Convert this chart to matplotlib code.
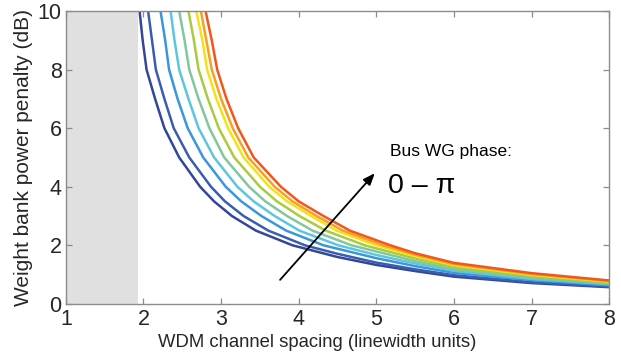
import matplotlib
matplotlib.use("Agg")
import matplotlib.pyplot as plt

plt.rcParams['font.family'] = ['Liberation Sans', 'DejaVu Sans']

# Shaded (forbidden) region upper bound, linewidth units
shade_end = 1.93

# Nine curves (bus WG phase 0 .. pi)
c0_x = [1.95, 1.99, 2.04, 2.15, 2.27, 2.46, 2.73, 2.91, 3.14, 3.45, 3.92, 4.5, 5.0, 5.5, 6.0, 7.0, 8.0]
c0_y = [10, 9, 8, 7, 6, 5, 4, 3.5, 3, 2.5, 2, 1.60, 1.33, 1.12, 0.93, 0.71, 0.57]

c1_x = [2.06, 2.11, 2.16, 2.27, 2.39, 2.59, 2.87, 3.05, 3.29, 3.61, 4.08, 4.5, 5.0, 5.5, 6.0, 7.0, 8.0]
c1_y = [10, 9, 8, 7, 6, 5, 4, 3.5, 3, 2.5, 2, 1.71, 1.41, 1.18, 0.98, 0.74, 0.59]

c2_x = [2.22, 2.28, 2.33, 2.44, 2.57, 2.77, 3.06, 3.26, 3.52, 3.84, 4.32, 5.0, 5.5, 6.0, 7.0, 8.0]
c2_y = [10, 9, 8, 7, 6, 5, 4, 3.5, 3, 2.5, 2, 1.56, 1.29, 1.06, 0.81, 0.63]

c3_x = [2.35, 2.40, 2.46, 2.58, 2.71, 2.91, 3.21, 3.42, 3.69, 4.01, 4.51, 5.0, 5.5, 6.0, 7.0, 8.0]
c3_y = [10, 9, 8, 7, 6, 5, 4, 3.5, 3, 2.5, 2, 1.67, 1.38, 1.13, 0.85, 0.67]

c4_x = [2.46, 2.53, 2.59, 2.71, 2.85, 3.04, 3.36, 3.57, 3.85, 4.18, 4.68, 5.0, 5.5, 6.0, 7.0, 8.0]
c4_y = [10, 9, 8, 7, 6, 5, 4, 3.5, 3, 2.5, 2, 1.79, 1.46, 1.19, 0.90, 0.70]

c5_x = [2.58, 2.65, 2.71, 2.83, 2.97, 3.17, 3.50, 3.72, 4.01, 4.35, 4.85, 5.5, 6.0, 7.0, 8.0]
c5_y = [10, 9, 8, 7, 6, 5, 4, 3.5, 3, 2.5, 2, 1.55, 1.26, 0.95, 0.73]

c6_x = [2.68, 2.76, 2.82, 2.94, 3.09, 3.29, 3.62, 3.85, 4.16, 4.49, 5.00, 5.5, 6.0, 7.0, 8.0]
c6_y = [10, 9, 8, 7, 6, 5, 4, 3.5, 3, 2.5, 2, 1.63, 1.32, 0.99, 0.76]

c7_x = [2.74, 2.81, 2.88, 3.00, 3.15, 3.35, 3.69, 3.92, 4.23, 4.57, 5.09, 5.5, 6.0, 7.0, 8.0]
c7_y = [10, 9, 8, 7, 6, 5, 4, 3.5, 3, 2.5, 2, 1.68, 1.36, 1.02, 0.78]

c8_x = [2.80, 2.88, 2.95, 3.07, 3.22, 3.42, 3.77, 4.00, 4.32, 4.66, 5.18, 5.5, 6.0, 7.0, 8.0]
c8_y = [10, 9, 8, 7, 6, 5, 4, 3.5, 3, 2.5, 2, 1.73, 1.40, 1.05, 0.80]

curves_x = [c0_x, c1_x, c2_x, c3_x, c4_x, c5_x, c6_x, c7_x, c8_x]
curves_y = [c0_y, c1_y, c2_y, c3_y, c4_y, c5_y, c6_y, c7_y, c8_y]
colors = ['#33479a', '#3b5db0', '#3a97dc', '#5ec5df', '#82c89c',
          '#a9cc3e', '#f3e21a', '#f7a022', '#f2561e']

x_ticks = [1, 2, 3, 4, 5, 6, 7, 8]
y_ticks = [0, 2, 4, 6, 8, 10]

fig = plt.figure(figsize=(6.21, 3.55), dpi=100)
ax = fig.add_axes([0.106, 0.144, 0.875, 0.825])

ax.axvspan(1, shade_end, color='#e0e0e0', lw=0, zorder=0)

for xs, ys, c in zip(curves_x, curves_y, colors):
    ax.plot(xs, ys, color=c, lw=1.8, solid_joinstyle='round', zorder=2)

ax.set_xlim(1, 8)
ax.set_ylim(0, 10)
ax.set_xticks(x_ticks)
ax.set_yticks(y_ticks)

for sp in ax.spines.values():
    sp.set_color('#8c8c8c')
    sp.set_linewidth(1.0)
ax.tick_params(direction='in', top=True, right=True, length=4, width=0.9,
               color='#8c8c8c', labelsize=15.5, labelcolor='#262626')
ax.tick_params(axis='y', pad=3)
ax.tick_params(axis='x', pad=4)

ax.set_xlabel('WDM channel spacing (linewidth units)', fontsize=13.3, color='#262626', labelpad=2.5)
ax.xaxis.label.set_x(0.463)
ax.set_ylabel('Weight bank power penalty (dB)', fontsize=15, color='#262626', labelpad=3)

ax.annotate('', xy=(4.98, 4.46), xytext=(3.76, 0.82),
            arrowprops=dict(arrowstyle='-|>,head_length=0.7,head_width=0.28',
                            color='black', lw=1.3, shrinkA=0, shrinkB=0), zorder=5)
ax.text(5.17, 5.2, 'Bus WG phase:', fontsize=12.5, color='black', va='center', ha='left')
ax.text(5.15, 4.02, '0 – π', fontsize=20.5, color='black', va='center', ha='left')

fig.savefig('out.png', dpi=100)
